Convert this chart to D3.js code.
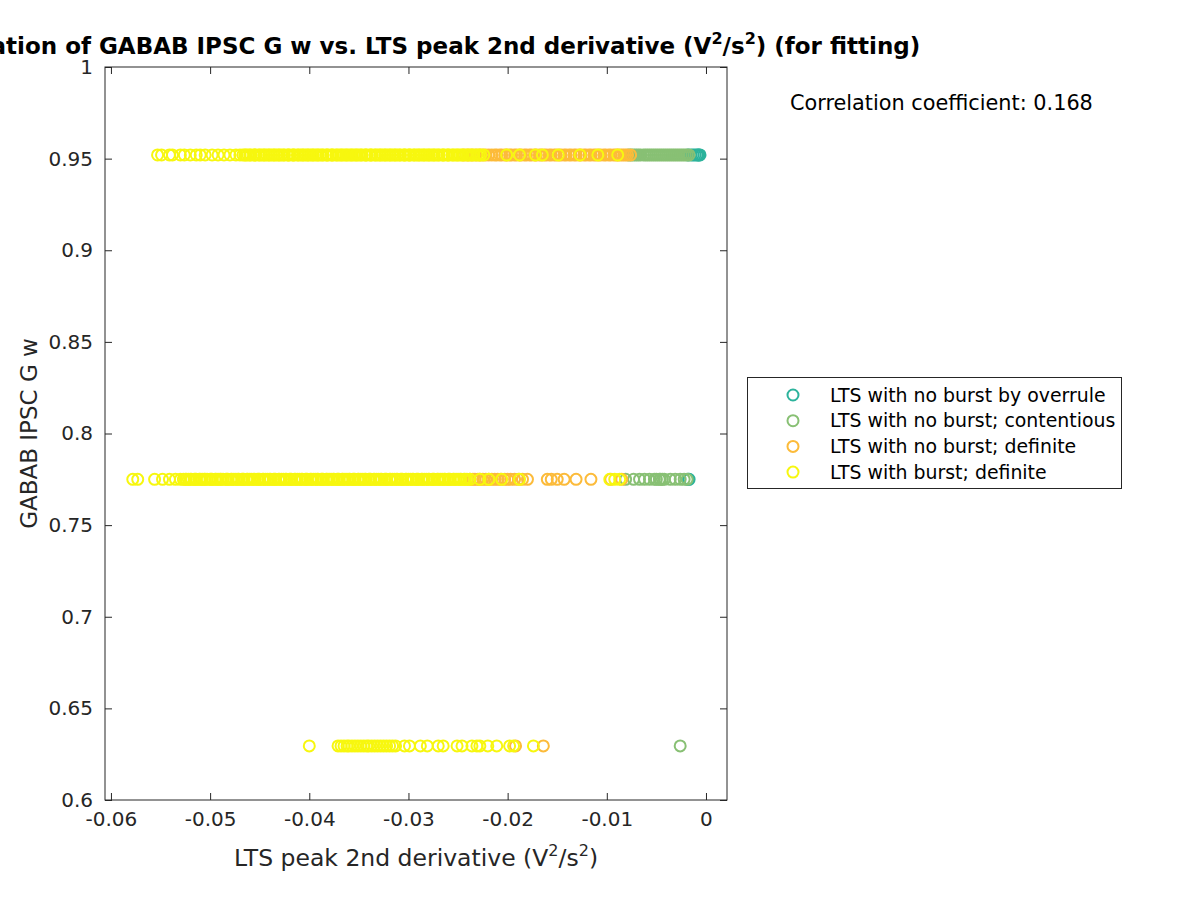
<!DOCTYPE html>
<html>
<head>
<meta charset="utf-8">
<script src="https://cdn.jsdelivr.net/npm/d3@7"></script>
<style>
  body { margin: 0; background: #fff; }
  svg { display: block; font-family: "DejaVu Sans", sans-serif; }
</style>
</head>
<body>
<svg id="chart" width="1200" height="900"></svg>
<script>
// axis ticks
const xTicks = [-0.06, -0.05, -0.04, -0.03, -0.02, -0.01, 0];
const xTickLabels = ['-0.06', '-0.05', '-0.04', '-0.03', '-0.02', '-0.01', '0'];
const yTicks = [0.6, 0.65, 0.7, 0.75, 0.8, 0.85, 0.9, 0.95, 1];
const yTickLabels = ['0.6', '0.65', '0.7', '0.75', '0.8', '0.85', '0.9', '0.95', '1'];

// the three GABAB G w levels that were tried
const rowLevels = [0.952, 0.775, 0.6295];

// series names and colours (legend order = draw order)
const seriesNames = ['LTS with no burst by overrule', 'LTS with no burst; contentious', 'LTS with no burst; definite', 'LTS with burst; definite'];
const seriesColors = ['#2cb39c', '#88c074', '#fcbb3a', '#f7f70f'];

// LTS peak 2nd derivative values, per series and per row
const overruleTop = [-0.0018, -0.0015, -0.0013, -0.0011, -0.0009, -0.0008, -0.0007, -0.0006];
const overruleMid = [-0.0018, -0.0017];
const overruleBot = [];

const contentTop = [-0.0078, -0.0076, -0.0074, -0.0072, -0.0070, -0.0068, -0.0066, -0.0063, -0.0061, -0.0059,
  -0.0057, -0.0055, -0.0053, -0.0051, -0.0049, -0.0047, -0.0045, -0.0043, -0.0041, -0.0039, -0.0037,
  -0.0035, -0.0033, -0.0031, -0.0029, -0.0027, -0.0025, -0.0023, -0.0021, -0.0019, -0.0017];
const contentMid = [-0.0081, -0.0073, -0.0067, -0.0062, -0.0057, -0.0052, -0.0050, -0.0047, -0.0046, -0.0044,
  -0.0042, -0.0036, -0.0031, -0.0026, -0.0022, -0.0019];
const contentBot = [-0.0026];

const noBurstTop = [-0.0244, -0.0240, -0.0236, -0.0232, -0.0228, -0.0225, -0.0222, -0.0219, -0.0216, -0.0213,
  -0.0211, -0.0208, -0.0206, -0.0203, -0.0201, -0.0198, -0.0196, -0.0193, -0.0191, -0.0188, -0.0186,
  -0.0183, -0.0181, -0.0178, -0.0176, -0.0173, -0.0171, -0.0168, -0.0166, -0.0163, -0.0161, -0.0158,
  -0.0156, -0.0153, -0.0151, -0.0148, -0.0146, -0.0143, -0.0141, -0.0138, -0.0136, -0.0133, -0.0131,
  -0.0128, -0.0126, -0.0123, -0.0121, -0.0118, -0.0116, -0.0113, -0.0111, -0.0108, -0.0106, -0.0103,
  -0.0101, -0.0098, -0.0096, -0.0093, -0.0091, -0.0089, -0.0087, -0.0085, -0.0083, -0.0081, -0.0079,
  -0.0076];
const noBurstMid = [-0.0238, -0.0235, -0.0233, -0.0230, -0.0228, -0.0225, -0.0222, -0.0219, -0.0216, -0.0213,
  -0.0210, -0.0207, -0.0203, -0.0200, -0.0197, -0.0193, -0.0189, -0.0185, -0.0180, -0.0160, -0.0156,
  -0.0150, -0.0143, -0.0131, -0.0116, -0.0096, -0.0085];
const noBurstBot = [-0.0192, -0.0164];

const burstTop = [-0.0553, -0.0549, -0.0541, -0.0538, -0.0530, -0.0526, -0.0520, -0.0514, -0.0510, -0.0505,
  -0.0498, -0.0492, -0.0486, -0.0480, -0.0474, -0.0470, -0.0467, -0.0464, -0.0462, -0.0459, -0.0456,
  -0.0454, -0.0451, -0.0448, -0.0446, -0.0443, -0.0441, -0.0438, -0.0435, -0.0433, -0.0430, -0.0428,
  -0.0425, -0.0422, -0.0420, -0.0417, -0.0415, -0.0412, -0.0409, -0.0407, -0.0404, -0.0402, -0.0399,
  -0.0396, -0.0394, -0.0391, -0.0389, -0.0386, -0.0383, -0.0381, -0.0378, -0.0376, -0.0373, -0.0370,
  -0.0368, -0.0365, -0.0363, -0.0360, -0.0357, -0.0355, -0.0352, -0.0350, -0.0347, -0.0344, -0.0342,
  -0.0339, -0.0337, -0.0334, -0.0331, -0.0329, -0.0326, -0.0324, -0.0321, -0.0318, -0.0316, -0.0313,
  -0.0311, -0.0308, -0.0305, -0.0303, -0.0300, -0.0298, -0.0295, -0.0292, -0.0290, -0.0287, -0.0285,
  -0.0282, -0.0279, -0.0277, -0.0274, -0.0272, -0.0269, -0.0266, -0.0264, -0.0261, -0.0259, -0.0256,
  -0.0253, -0.0251, -0.0248, -0.0245, -0.0242, -0.0238, -0.0234, -0.0229, -0.0224, -0.0201, -0.0188,
  -0.0172, -0.0165, -0.0149, -0.0127, -0.0109, -0.0089,
  -0.0465, -0.0460, -0.0455, -0.0450, -0.0445, -0.0440, -0.0436, -0.0431, -0.0426, -0.0421, -0.0416,
  -0.0411, -0.0406, -0.0401, -0.0397, -0.0392, -0.0387, -0.0382, -0.0377, -0.0372, -0.0367, -0.0362,
  -0.0358, -0.0353, -0.0348, -0.0343, -0.0338, -0.0333, -0.0328, -0.0323, -0.0319, -0.0314, -0.0309,
  -0.0304, -0.0299, -0.0294, -0.0289, -0.0284, -0.0280, -0.0275, -0.0270, -0.0265, -0.0260, -0.0255,
  -0.0250, -0.0246, -0.0240, -0.0236, -0.0231, -0.0227];
const burstMid = [-0.0578, -0.0573, -0.0556, -0.0548, -0.0541, -0.0535, -0.0530, -0.0527, -0.0524, -0.0522,
  -0.0519, -0.0516, -0.0514, -0.0511, -0.0508, -0.0506, -0.0503, -0.0500, -0.0498, -0.0495, -0.0492,
  -0.0490, -0.0487, -0.0484, -0.0482, -0.0479, -0.0476, -0.0474, -0.0471, -0.0468, -0.0466, -0.0463,
  -0.0460, -0.0458, -0.0455, -0.0452, -0.0450, -0.0447, -0.0444, -0.0442, -0.0439, -0.0436, -0.0434,
  -0.0431, -0.0428, -0.0426, -0.0423, -0.0420, -0.0418, -0.0415, -0.0412, -0.0410, -0.0407, -0.0404,
  -0.0402, -0.0399, -0.0396, -0.0394, -0.0391, -0.0388, -0.0386, -0.0383, -0.0380, -0.0378, -0.0375,
  -0.0372, -0.0370, -0.0367, -0.0364, -0.0362, -0.0359, -0.0356, -0.0354, -0.0351, -0.0348, -0.0346,
  -0.0343, -0.0340, -0.0338, -0.0335, -0.0332, -0.0330, -0.0327, -0.0324, -0.0322, -0.0319, -0.0316,
  -0.0314, -0.0311, -0.0308, -0.0306, -0.0303, -0.0300, -0.0298, -0.0295, -0.0292, -0.0290, -0.0287,
  -0.0284, -0.0282, -0.0279, -0.0276, -0.0274, -0.0271, -0.0268, -0.0266, -0.0263, -0.0260, -0.0258,
  -0.0255, -0.0252, -0.0250, -0.0247, -0.0244, -0.0241, -0.0238, -0.0228, -0.0219, -0.0206, -0.0188,
  -0.0097, -0.0092, -0.0087,
  -0.0525, -0.0520, -0.0515, -0.0510, -0.0505, -0.0499, -0.0494, -0.0489, -0.0483, -0.0478, -0.0472,
  -0.0467, -0.0462, -0.0456, -0.0451, -0.0446, -0.0440, -0.0435, -0.0430, -0.0424, -0.0419, -0.0414,
  -0.0408, -0.0403, -0.0398, -0.0392, -0.0387, -0.0382, -0.0376, -0.0371, -0.0366, -0.0360, -0.0355,
  -0.0350, -0.0344, -0.0339, -0.0334, -0.0328, -0.0323, -0.0318, -0.0312, -0.0307, -0.0302, -0.0296,
  -0.0291, -0.0286, -0.0280, -0.0275, -0.0270, -0.0264, -0.0259, -0.0254, -0.0248, -0.0243];
const burstBot = [-0.0400, -0.0371, -0.0368, -0.0365, -0.0362, -0.0360, -0.0357, -0.0354, -0.0351, -0.0348,
  -0.0345, -0.0342, -0.0340, -0.0337, -0.0334, -0.0331, -0.0328, -0.0325, -0.0322, -0.0319, -0.0316,
  -0.0313, -0.0304, -0.0299, -0.0288, -0.0281, -0.0270, -0.0265, -0.0251, -0.0246, -0.0236, -0.0231,
  -0.0228, -0.0220, -0.0211, -0.0198, -0.0194, -0.0174];

const seriesRows = [
  [overruleTop, overruleMid, overruleBot],
  [contentTop, contentMid, contentBot],
  [noBurstTop, noBurstMid, noBurstBot],
  [burstTop, burstMid, burstBot]
];

const corrText = 'Correlation coefficient: 0.168';

const svg = d3.select('#chart');
const margin = { left: 105, right: 727, top: 67, bottom: 800 };
const ink = '#262626';
const markerR = 5.5;

const x = d3.scaleLinear().domain([-0.0606, 0.00212]).range([margin.left, margin.right]);
const y = d3.scaleLinear().domain([0.6, 1]).range([margin.bottom, margin.top]);

// points
seriesRows.forEach((rows, si) => {
  const pts = [];
  rows.forEach((xs, ri) => xs.forEach(v => pts.push({ x: v, y: rowLevels[ri] })));
  svg.append('g').selectAll('circle').data(pts).enter().append('circle')
    .attr('cx', d => x(d.x)).attr('cy', d => y(d.y)).attr('r', markerR)
    .attr('fill', 'none').attr('stroke', seriesColors[si]).attr('stroke-width', 2);
});

// axes (box with inward ticks on all sides)
const tickLen = 7;
const xFmt = (d, i) => xTickLabels[i];
const yFmt = (d, i) => yTickLabels[i];
const axB = svg.append('g').attr('transform', `translate(0,${margin.bottom})`)
  .call(d3.axisBottom(x).tickValues(xTicks).tickFormat(xFmt).tickSizeInner(-tickLen).tickSizeOuter(0).tickPadding(12));
const axT = svg.append('g').attr('transform', `translate(0,${margin.top})`)
  .call(d3.axisTop(x).tickValues(xTicks).tickFormat('').tickSizeInner(-tickLen).tickSizeOuter(0));
const axL = svg.append('g').attr('transform', `translate(${margin.left},0)`)
  .call(d3.axisLeft(y).tickValues(yTicks).tickFormat(yFmt).tickSizeInner(-tickLen).tickSizeOuter(0).tickPadding(12));
const axR = svg.append('g').attr('transform', `translate(${margin.right},0)`)
  .call(d3.axisRight(y).tickValues(yTicks).tickFormat('').tickSizeInner(-tickLen).tickSizeOuter(0));
[axB, axT, axL, axR].forEach(g => {
  g.select('.domain').remove();
  g.selectAll('line').attr('stroke', ink);
  g.selectAll('text').attr('fill', ink).style('font-size', '20px').style('font-family', '"DejaVu Sans", sans-serif');
});
svg.append('rect').attr('x', margin.left).attr('y', margin.top)
  .attr('width', margin.right - margin.left).attr('height', margin.bottom - margin.top)
  .attr('fill', 'none').attr('stroke', ink).attr('stroke-width', 1);

// axis labels
const cx = (margin.left + margin.right) / 2;
const xl = svg.append('text').attr('x', cx).attr('y', 866).attr('text-anchor', 'middle')
  .attr('fill', ink).style('font-size', '23.5px');
xl.append('tspan').text('LTS peak 2nd derivative (V');
xl.append('tspan').attr('dy', -10).style('font-size', '16px').text('2');
xl.append('tspan').attr('dy', 10).text('/s');
xl.append('tspan').attr('dy', -10).style('font-size', '16px').text('2');
xl.append('tspan').attr('dy', 10).text(')');

svg.append('text').attr('transform', `translate(37,${(margin.top + margin.bottom) / 2}) rotate(-90)`)
  .attr('text-anchor', 'middle').attr('fill', ink).style('font-size', '23px').text('GABAB IPSC G w');

// title (centred over axes, runs off the left edge like the original)
const tt = svg.append('text').attr('x', cx).attr('y', 54).attr('text-anchor', 'middle')
  .attr('fill', '#000').style('font-size', '23px').style('font-weight', 'bold');
tt.append('tspan').text('Correlation of GABAB IPSC G w vs. LTS peak 2nd derivative (V');
tt.append('tspan').attr('dy', -10).style('font-size', '16px').text('2');
tt.append('tspan').attr('dy', 10).text('/s');
tt.append('tspan').attr('dy', -10).style('font-size', '16px').text('2');
tt.append('tspan').attr('dy', 10).text(') (for fitting)');

// correlation text
svg.append('text').attr('x', 790).attr('y', 110).attr('fill', '#000')
  .style('font-size', '20.8px').text(corrText);

// legend
const leg = svg.append('g');
leg.append('rect').attr('x', 747.5).attr('y', 377.5).attr('width', 374).attr('height', 111)
  .attr('fill', '#fff').attr('stroke', ink).attr('stroke-width', 1);
seriesNames.forEach((name, i) => {
  const ly = 395 + i * 25.7;
  leg.append('circle').attr('cx', 793).attr('cy', ly).attr('r', markerR)
    .attr('fill', 'none').attr('stroke', seriesColors[i]).attr('stroke-width', 2);
  leg.append('text').attr('x', 830).attr('y', ly + 6.5).attr('fill', '#000')
    .style('font-size', '18.9px').text(name);
});
</script>
</body>
</html>
